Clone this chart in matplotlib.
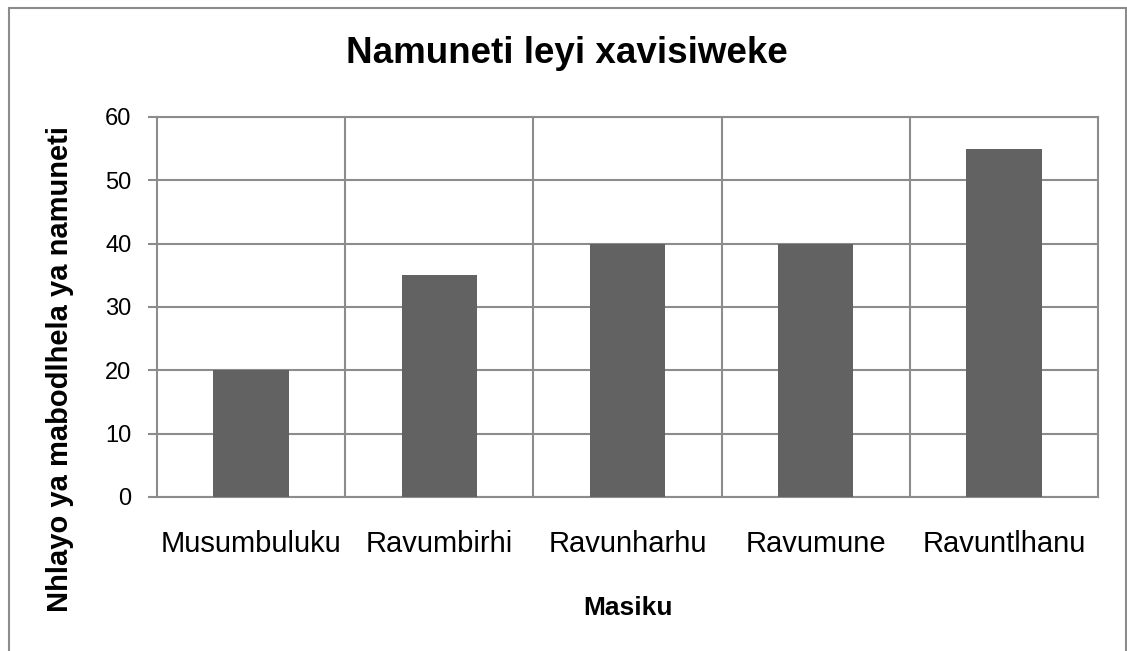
import matplotlib
matplotlib.use("Agg")
import matplotlib.pyplot as plt
from matplotlib.patches import Rectangle

days = ["Musumbuluku", "Ravumbirhi", "Ravunharhu", "Ravumune", "Ravuntlhanu"]
notes = [20, 35, 40, 40, 55]
yticks = [0, 10, 20, 30, 40, 50, 60]

plt.rcParams["font.family"] = ["Liberation Sans", "DejaVu Sans"]

fig = plt.figure(figsize=(11.27, 6.51), dpi=100)
ax = fig.add_axes([0.1393, 0.2366, 0.8350, 0.5837])

grid_c = "#8c8c8c"
x = list(range(len(days)))
ax.bar(x, notes, width=0.4, color="#626262", zorder=3)

ax.set_xlim(-0.5, len(days) - 0.5)
ax.set_ylim(0, 60)
ax.set_yticks(yticks)
ax.set_xticks(x)
ax.set_xticklabels(days, fontsize=21)
ax.tick_params(axis="y", labelsize=17, length=6.5, color=grid_c, width=1.5, pad=12)
ax.tick_params(axis="x", length=0, pad=24)

# category separators and horizontal grid
ax.set_xticks([i + 0.5 for i in x[:-1]], minor=True)
ax.tick_params(axis="x", which="minor", length=0)
ax.grid(axis="y", color=grid_c, linewidth=1.5, zorder=0)
ax.grid(axis="x", which="minor", color=grid_c, linewidth=1.5, zorder=0)
ax.grid(axis="x", which="major", visible=False)
for s in ax.spines.values():
    s.set_color(grid_c)
    s.set_linewidth(1.5)

# title is centred on the whole chart, not on the plot area
ax.set_title("Namuneti leyi xavisiweke", fontsize=26.5, fontweight="bold", pad=39, x=0.4357)
ax.set_xlabel("Masiku", fontsize=19, fontweight="bold", labelpad=27)
ax.set_ylabel("Nhlayo ya mabodlhela ya namuneti", fontsize=21, fontweight="bold",
              labelpad=22, y=0.337)

# outer chart border
fig.patches.append(Rectangle((9 / 1127, -0.05), 1117 / 1127, 1.05 - 8 / 651,
                             transform=fig.transFigure, fill=False,
                             edgecolor="#8c8c8c", linewidth=1.5))

fig.savefig("out.png", dpi=100)
